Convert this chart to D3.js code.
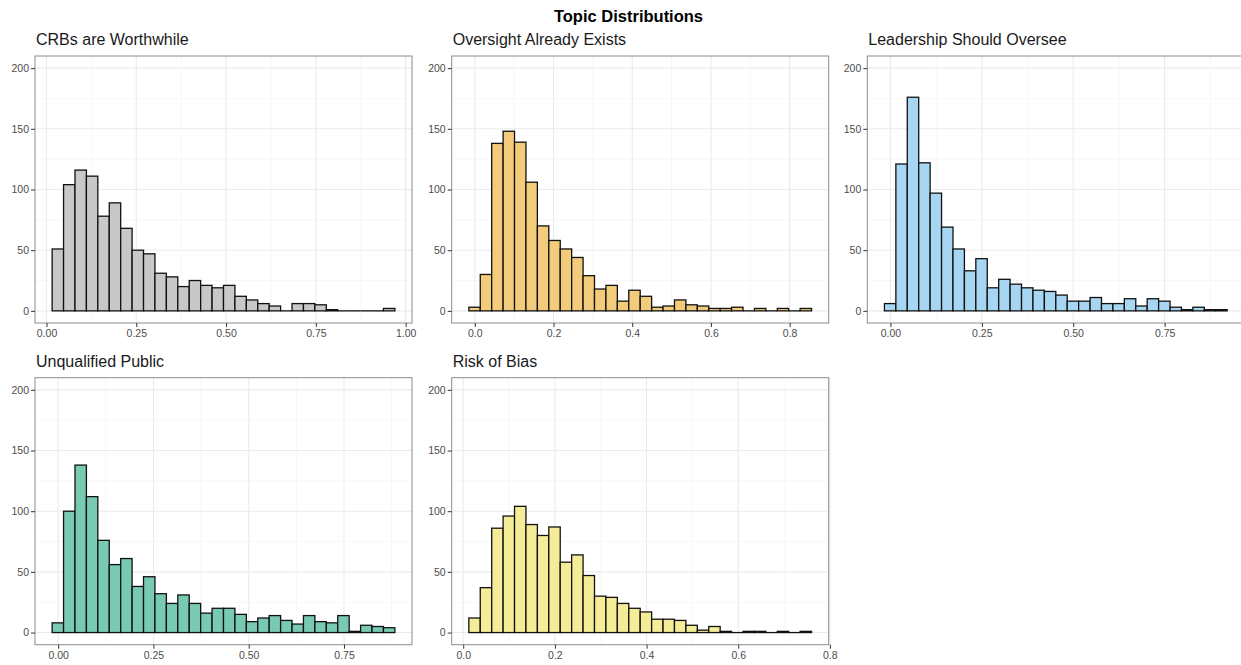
<!DOCTYPE html>
<html>
<head>
<meta charset="utf-8">
<script src="https://cdn.jsdelivr.net/npm/d3@7"></script>
<style>
  body { margin: 0; background: #fff; }
  svg { display: block; font-family: "Liberation Sans", Arial, sans-serif; }
  .tick text { fill: #4d4d4d; font-size: 10.5px; }
  .tick line { stroke: #333; }
  .domain { display: none; }
</style>
</head>
<body>
<div class="chart"></div>
<script>
// topic names
const topics = ["CRBs are Worthwhile", "Oversight Already Exists", "Leadership Should Oversee", "Unqualified Public", "Risk of Bias"];

// histogram counts, 30 bins each
const crbCounts = [51,104,116,111,78,89,68,50,47,31,28,20,25,21,19,21,12,9,6,4,0,6,6,5,1,0,0,0,0,2];
const oversightCounts = [3,30,138,148,139,106,70,58,51,44,29,18,21,8,17,12,3,4,9,5,4,2,2,3,0,2,0,2,0,2];
const leadershipCounts = [6,121,176,122,97,69,51,33,43,19,26,22,19,17,16,13,8,8,11,6,6,10,4,10,8,3,1,3,1,1];
const unqualifiedCounts = [8,100,138,112,76,56,61,38,46,32,24,31,24,16,20,20,15,9,12,14,10,7,14,9,8,14,1,6,5,4];
const biasCounts = [12,37,86,96,104,89,80,87,58,64,47,30,29,24,20,17,11,11,10,6,2,5,1,0,1,1,0,1,0,1];

// first bin start / last bin end
const binRanges = [[0.0157, 0.970], [-0.0152, 0.8557], [-0.0164, 0.921], [-0.0157, 0.8834], [0.0122, 0.760]];

// axis ticks
const xTicks = [
  [0, 0.25, 0.5, 0.75, 1.0],
  [0, 0.2, 0.4, 0.6, 0.8],
  [0, 0.25, 0.5, 0.75],
  [0, 0.25, 0.5, 0.75],
  [0, 0.2, 0.4, 0.6, 0.8]
];
const xFormats = [".2f", ".1f", ".2f", ".2f", ".1f"];
const yTicks = [0, 50, 100, 150, 200];

const fills = ["#c8c8c8", "#f2cc7a", "#a6d6f2", "#78cab2", "#f5ec98"];
const allCounts = [crbCounts, oversightCounts, leadershipCounts, unqualifiedCounts, biasCounts];

const W = 1241, H = 665;
const panelW = 377, panelH = 267;
const colX = [35, 451.7, 867.3];
const rowY = [56, 377.7];

const svg = d3.select(".chart").append("svg")
    .attr("width", W)
    .attr("height", H);

svg.append("text")
    .attr("x", 628.5)
    .attr("y", 22)
    .attr("text-anchor", "middle")
    .attr("font-weight", "bold")
    .attr("font-size", 16.5)
    .attr("fill", "#000")
    .text("Topic Distributions");

topics.forEach((name, i) => {
    const counts = allCounts[i];
    const [b0, b1] = binRanges[i];
    const bw = (b1 - b0) / counts.length;
    const bins = counts.map((c, j) => ({x0: b0 + j * bw, x1: b0 + (j + 1) * bw, n: c}));

    const pad = (b1 - b0) * 0.05;
    const x = d3.scaleLinear().domain([b0 - pad, b1 + pad]).range([0, panelW]);
    const y = d3.scaleLinear().domain([-10, 210]).range([panelH, 0]);

    const g = svg.append("g")
        .attr("transform", `translate(${colX[i % 3]},${rowY[Math.floor(i / 3)]})`);

    g.append("rect")
        .attr("width", panelW).attr("height", panelH)
        .attr("fill", "#fff");

    // minor grid
    const xt = xTicks[i];
    const step = xt[1] - xt[0];
    const xMinor = d3.range(xt[0] - step / 2, b1 + pad, step).filter(v => x(v) > 0 && x(v) < panelW);
    g.selectAll(".xminor").data(xMinor).enter().append("line")
        .attr("x1", d => x(d)).attr("x2", d => x(d))
        .attr("y1", 0).attr("y2", panelH)
        .attr("stroke", "#f2f2f2").attr("stroke-width", 0.6);
    g.selectAll(".yminor").data([25, 75, 125, 175]).enter().append("line")
        .attr("x1", 0).attr("x2", panelW)
        .attr("y1", d => y(d)).attr("y2", d => y(d))
        .attr("stroke", "#f2f2f2").attr("stroke-width", 0.6);

    // major grid
    g.selectAll(".xmajor").data(xt).enter().append("line")
        .attr("x1", d => x(d)).attr("x2", d => x(d))
        .attr("y1", 0).attr("y2", panelH)
        .attr("stroke", "#ebebeb").attr("stroke-width", 1.1);
    g.selectAll(".ymajor").data(yTicks).enter().append("line")
        .attr("x1", 0).attr("x2", panelW)
        .attr("y1", d => y(d)).attr("y2", d => y(d))
        .attr("stroke", "#ebebeb").attr("stroke-width", 1.1);

    // bars
    g.selectAll(".bar").data(bins.filter(d => d.n > 0)).enter().append("rect")
        .attr("x", d => x(d.x0))
        .attr("width", d => x(d.x1) - x(d.x0))
        .attr("y", d => y(d.n))
        .attr("height", d => y(0) - y(d.n))
        .attr("fill", fills[i])
        .attr("stroke", "#111")
        .attr("stroke-width", 1.3);

    // empty bins still show their outline along the baseline
    g.selectAll(".empty").data(bins.filter(d => d.n === 0)).enter().append("line")
        .attr("x1", d => x(d.x0)).attr("x2", d => x(d.x1))
        .attr("y1", y(0)).attr("y2", y(0))
        .attr("stroke", "#111")
        .attr("stroke-width", 1.3);

    g.append("rect")
        .attr("width", panelW).attr("height", panelH)
        .attr("fill", "none")
        .attr("stroke", "#8c8c8c")
        .attr("stroke-width", 1);

    const yAxis = d3.axisLeft(y).tickValues(yTicks).tickSize(4).tickPadding(2);
    g.append("g").attr("class", "axis y-axis").call(yAxis);

    const xAxis = d3.axisBottom(x).tickValues(xt).tickFormat(d3.format(xFormats[i])).tickSize(4).tickPadding(3);
    g.append("g").attr("class", "axis x-axis")
        .attr("transform", `translate(0,${panelH})`)
        .call(xAxis);

    g.append("text")
        .attr("x", 1)
        .attr("y", -11)
        .attr("font-size", 16)
        .attr("fill", "#1a1a1a")
        .text(name);
});
</script>
</body>
</html>
